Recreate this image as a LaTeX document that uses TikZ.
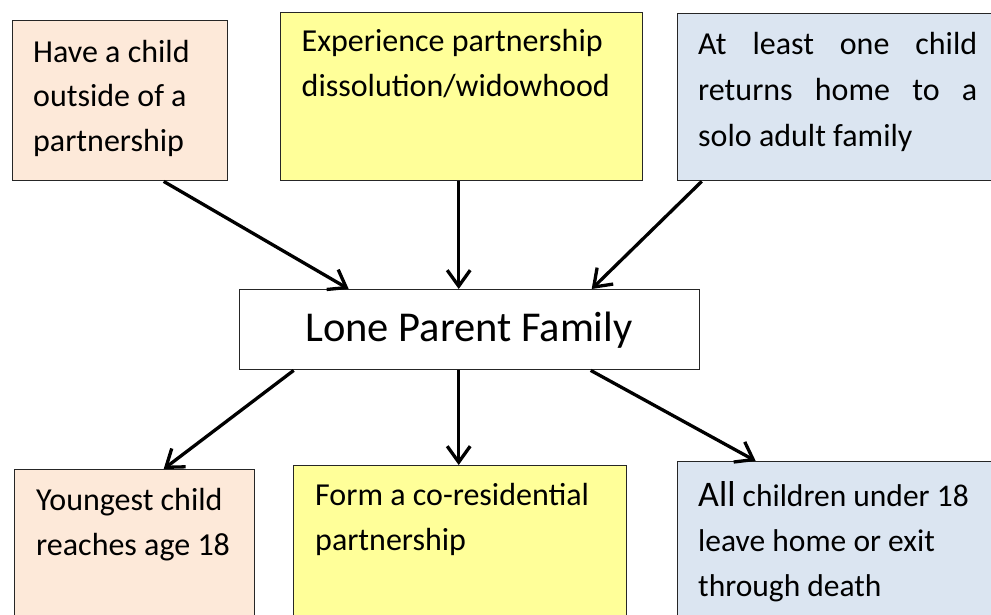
\documentclass[tikz,border=0pt]{standalone}
\usepackage{fontspec}
\setmainfont{Carlito}
\usetikzlibrary{arrows.meta}
\definecolor{peach}{HTML}{FDE9D9}
\definecolor{pyellow}{HTML}{FFFF99}
\definecolor{pblue}{HTML}{DBE5F1}
\tikzset{
  box/.style={draw=black!85, line width=1.4pt, rectangle, inner sep=0pt, anchor=north west},
  txt/.style={anchor=base west, inner sep=0pt, align=left, font=\fontsize{32}{44.5}\selectfont},
  arr/.style={line width=3.3pt, -{Straight Barb[length=16pt,width=23pt,line width=3.3pt]}}
}
\begin{document}
\begin{tikzpicture}[x=1pt,y=-1pt]
\useasboundingbox (0,0) rectangle (991,614);
\clip (0,0) rectangle (991,614);
% boxes
\node[box, fill=peach, minimum width=215pt, minimum height=160pt] (b1) at (12,20) {};
\node[box, fill=pyellow, minimum width=362pt, minimum height=168pt] (b2) at (280,12) {};
\node[box, fill=pblue, minimum width=323pt, minimum height=167pt] (b3) at (677,13) {};
\node[box, fill=white, minimum width=460pt, minimum height=80pt] (c) at (239,289) {};
\node[box, fill=peach, minimum width=240pt, minimum height=180pt] (b5) at (14,469) {};
\node[box, fill=pyellow, minimum width=333pt, minimum height=180pt] (b6) at (293,465) {};
\node[box, fill=pblue, minimum width=323pt, minimum height=180pt] (b7) at (677,461) {};
% texts (anchored at the baseline of their last line)
\node[txt] (t1) at (33,151) {Have a child\\outside of a\\partnership};
\node[txt] (t2) at (301.5,96) {Experience partnership\\dissolution/widowhood};
\node[txt, font=\fontsize{32}{46}\selectfont] (t3) at (698,146.7) {\hbox to 279pt{At\hfill least\hfill one\hfill child}\\\hbox to 279pt{returns\hfill home\hfill to\hfill a}\\solo adult family};
\node[anchor=base, inner sep=0pt, font=\fontsize{42.5}{50}\selectfont] (tc) at (469,341.7) {Lone Parent Family};
\node[txt] (t5) at (36,555) {Youngest child\\reaches age 18};
\node[txt] (t6) at (315,550) {Form a co-residential\\partnership};
\node[txt, font=\fontsize{31.5}{45}\selectfont] (t7) at (698,596.7) {{\fontsize{36}{45}\selectfont All} children under 18\\leave home or exit\\through death};
% arrows
\draw[arr] ([xshift=43.5pt]b1.south) -- ([xshift=-121pt]c.north);
\draw[arr] ([xshift=-3pt]b2.south) -- ([xshift=-11pt]c.north);
\draw[arr] ([xshift=-137.5pt]b3.south) -- ([xshift=122pt]c.north);
\draw[arr] ([xshift=-176pt]c.south) -- ([xshift=29pt]b5.north);
\draw[arr] ([xshift=-11pt]c.south) -- ([xshift=-1.5pt]b6.north);
\draw[arr] ([xshift=121pt]c.south) -- ([xshift=-83.5pt]b7.north);
\end{tikzpicture}
\end{document}
